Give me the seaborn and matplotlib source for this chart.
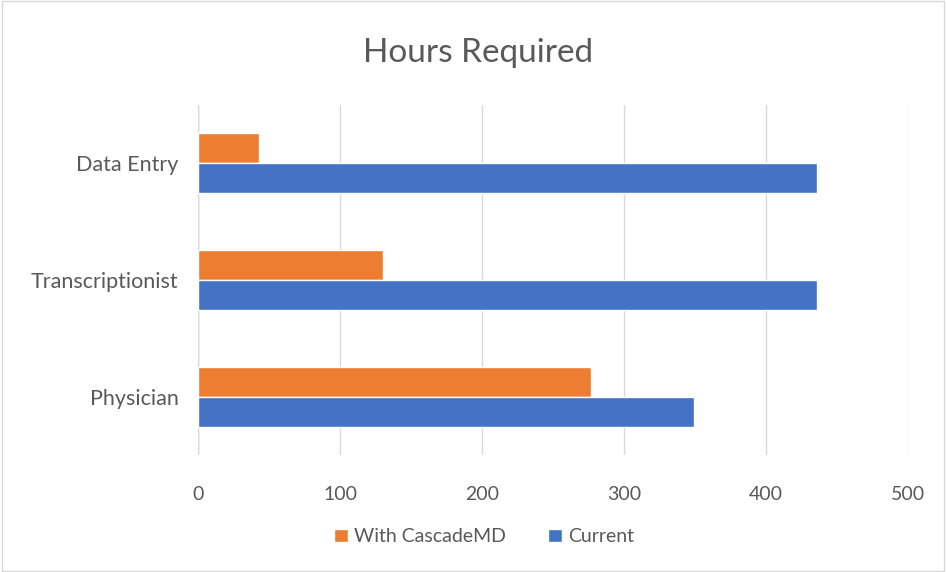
import seaborn as sns
import matplotlib.pyplot as plt
import pandas as pd
from matplotlib.patches import Rectangle

categories = ['Data Entry', 'Transcriptionist', 'Physician']
with_cascade = [43, 130, 277]
current = [436, 436, 349]
series_names = ['With CascadeMD', 'Current']
x_ticks = [0, 100, 200, 300, 400, 500]

sns.set_style("white")
plt.rcParams['font.family'] = ['Lato', 'DejaVu Sans']

df = pd.DataFrame({
    'Category': categories * 2,
    'Series': [series_names[0]] * 3 + [series_names[1]] * 3,
    'Hours': with_cascade + current,
})

fig = plt.figure(figsize=(9.46, 5.72), dpi=100)
ax = fig.add_axes([0.2093, 0.2037, 0.7505, 0.6136])

sns.barplot(data=df, y='Category', x='Hours', hue='Series', order=categories,
            hue_order=series_names, palette=['#ED7D31', '#4472C4'],
            orient='h', width=0.51, gap=0, saturation=1, ax=ax)

ax.set_xlim(0, 500)
ax.set_xticks(x_ticks)
ax.grid(axis='x', color='#d9d9d9', linewidth=1)
ax.set_axisbelow(True)
for s in ax.spines.values():
    s.set_visible(False)
ax.axvline(0, color='#d9d9d9', linewidth=1, zorder=0)
ax.set_xlabel('')
ax.set_ylabel('')
ax.tick_params(axis='both', length=0, labelcolor='#595959')
ax.tick_params(axis='x', pad=22, labelsize=14)
ax.tick_params(axis='y', pad=14, labelsize=15.5)

fig.text(0.505, 0.908, 'Hours Required', ha='center', va='center',
         fontsize=24, color='#595959')

ax.legend(loc='center', bbox_to_anchor=(0.403, -0.232), ncol=2,
          frameon=False, fontsize=14, handlelength=0.7, handleheight=0.7,
          columnspacing=2.2, handletextpad=0.3, labelcolor='#595959')

fig.patches.append(Rectangle((0.002, 0.002), 0.996, 0.996, transform=fig.transFigure,
                             fill=False, edgecolor='#d9d9d9', linewidth=1))

plt.savefig('out.png', dpi=100)
plt.close()
